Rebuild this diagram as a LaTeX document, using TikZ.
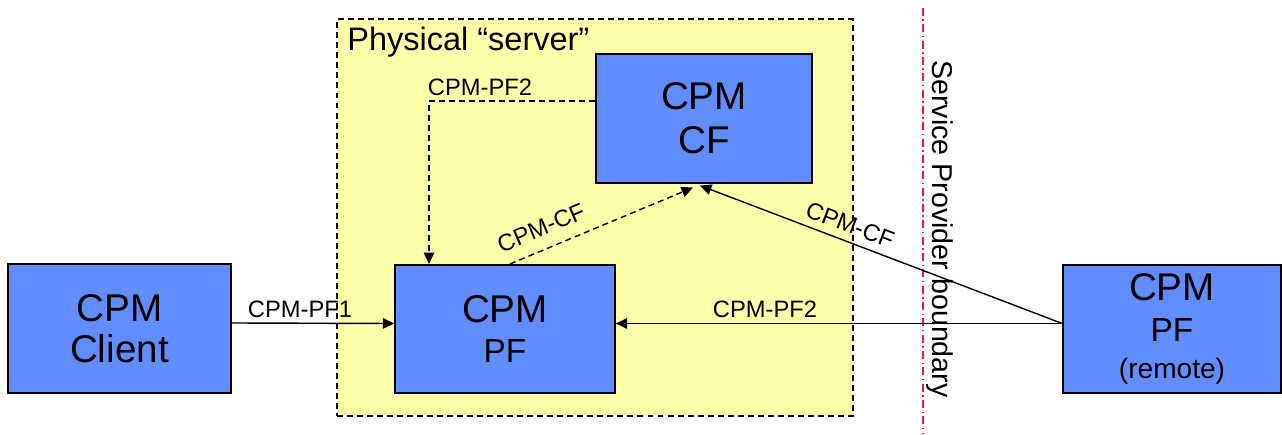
\documentclass[tikz,border=0pt]{standalone}
\usepackage{fontspec}
\setmainfont{Liberation Sans}
\usetikzlibrary{arrows.meta}

\definecolor{fnblue}{RGB}{97,141,255}
\definecolor{srvyellow}{RGB}{255,255,170}
\definecolor{bndred}{RGB}{240,20,70}

\tikzset{
	fnbox/.style={draw,fill=fnblue,line width=0.9pt,minimum width=#1,minimum height=2.57cm,align=center,inner sep=0,font=\fontsize{22}{23}\selectfont},
	srvbox/.style={draw,fill=srvyellow,line width=0.9pt,dash pattern=on 3.4pt off 2.3pt,minimum width=10.32cm,minimum height=7.94cm,inner sep=0},
	lbl/.style={inner sep=0,font=\fontsize{13.5}{15}\selectfont},
	link/.style={line width=0.8pt,-{Triangle[length=6.5pt,width=6pt]}},
	dlink/.style={link,dash pattern=on 3.4pt off 2.3pt},
	bnd/.style={draw=bndred,line width=0.7pt,dash pattern=on 4.5pt off 2pt on 0.8pt off 2pt}
}

\begin{document}
\begin{tikzpicture}[x=0.02cm,y=-0.02cm]
	\useasboundingbox (0,0) rectangle (1282,435);
	\node[srvbox] (server) at (595,217.5) {};
	\node[anchor=base west,inner sep=0,font=\fontsize{18.5}{20}\selectfont] (srvlbl) at (347,51) {Physical “server”};
	\node[fnbox=4.46cm] (client) at (119.5,328.5) {CPM\\Client};
	\node[fnbox=4.4cm] (pf) at (505,329) {CPM\\\fontsize{19}{23}\selectfont PF};
	\node[fnbox=4.32cm] (cf) at (704,118.5) {CPM\\[2pt]CF};
	\node[fnbox=4.36cm] (remote) at (1172,329) {CPM\\\fontsize{19}{23}\selectfont PF\\[-2pt]\fontsize{16}{18}\selectfont (remote)};
	\draw[bnd] (923,8) coordinate (btop) -- (923,433) coordinate (bbot);
	\node[rotate=-90,inner sep=0,font=\fontsize{16.3}{18}\selectfont] (bndlbl) at (940,229) {Service Provider boundary};
	\draw[link] ([yshift=0.11cm]client.east) -- ([yshift=0.11cm]pf.west);
	\draw[link] ([yshift=0.11cm]remote.west) -- ([yshift=0.11cm]pf.east);
	\draw[link] ([yshift=0.11cm]remote.west) -- ([xshift=-0.08cm,yshift=-0.04cm]cf.south);
	\draw[dlink] ([xshift=0.1cm]pf.north) -- ([xshift=-0.22cm,yshift=-0.08cm]cf.south);
	\draw[dlink] ([yshift=0.35cm]cf.west) -| ([xshift=-1.52cm]pf.north);
	\node[lbl] (pf1lbl) at (300,309) {CPM-PF1};
	\node[lbl] (pf2top) at (480,87) {CPM-PF2};
	\node[lbl] (pf2bot) at (765,309) {CPM-PF2};
	\node[lbl,rotate=23] (cflocal) at (541,228) {CPM-CF};
	\node[lbl,rotate=-21] (cfremote) at (850,225) {CPM-CF};
\end{tikzpicture}
\end{document}
